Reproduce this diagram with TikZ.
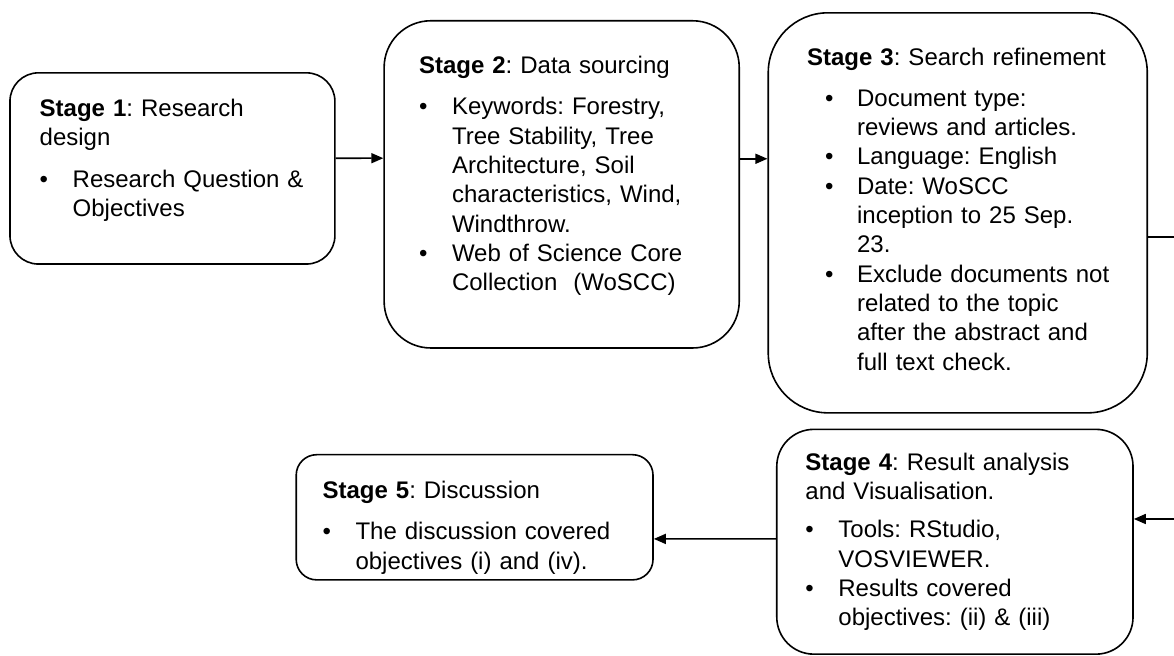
\documentclass[tikz,border=0pt]{standalone}
\usepackage{fontspec}
\setmainfont{Liberation Sans}
\usepackage{enumitem}
\usetikzlibrary{arrows.meta, positioning, calc}

\setlist[itemize]{nosep, topsep=6pt, labelindent=0pt, labelwidth=10pt, labelsep=6.5pt, leftmargin=16.5pt, align=left, label=\textbullet}

\begin{document}
\frenchspacing
\begin{tikzpicture}[
        stagebox/.style={rectangle, draw, line width=0.8pt},
        stagetext/.style={anchor=north west, inner sep=0pt, align=left, font=\fontsize{12}{14.65}\selectfont},
        arrow/.style={-{Triangle[length=6pt, width=5pt]}, line width=0.8pt}
    ]

    \useasboundingbox (0,0) rectangle (20.63,11.51);

    % Stage boxes
    \node[stagebox, minimum width=5.71cm, minimum height=3.36cm, rounded corners=0.5cm] (s1) at (3.03,8.55) {};
    \node[stagebox, minimum width=6.24cm, minimum height=5.75cm, rounded corners=0.82cm] (s2) at (9.87,8.27) {};
    \node[stagebox, minimum width=6.66cm, minimum height=7.03cm, rounded corners=1.05cm] (s3) at (16.83,7.77) {};
    \node[stagebox, minimum width=6.26cm, minimum height=3.95cm, rounded corners=0.65cm] (s4) at (16.78,1.99) {};
    \node[stagebox, minimum width=6.27cm, minimum height=2.20cm, rounded corners=0.36cm] (s5) at (8.34,2.42) {};

    % --- Box texts ---

    \node[stagetext, text width=5cm, below right=0.47cm and 0.53cm of s1.north west] (t1) {%
        \textbf{Stage 1}: Research\\ design
        \begin{itemize}
            \item Research Question \&\\ Objectives
        \end{itemize}};

    \node[stagetext, text width=5.5cm, below right=0.63cm and 0.62cm of s2.north west] (t2) {%
        \textbf{Stage 2}: Data sourcing
        \begin{itemize}
            \item Keywords: Forestry,\\ Tree Stability, Tree\\ Architecture, Soil\\ characteristics, Wind,\\ Windthrow.
            \item Web of Science Core\\ Collection\ \ (WoSCC)
        \end{itemize}};

    \node[stagetext, text width=6cm, below right=0.62cm and 0.69cm of s3.north west] (t3) {%
        \textbf{Stage 3}: Search refinement
        \begin{itemize}[labelindent=9pt, labelwidth=9.5pt, leftmargin=25pt]
            \item Document type:\\ reviews and articles.
            \item Language: English
            \item Date: WoSCC\\ inception to 25 Sep.\\ 23.
            \item Exclude documents not\\ related to the topic\\ after the abstract and\\ full text check.
        \end{itemize}};

    \node[stagetext, text width=5.6cm, below right=0.42cm and 0.51cm of s4.north west] (t4) {%
        \textbf{Stage 4}: Result analysis\\ and Visualisation.
        \begin{itemize}[topsep=4.5pt]
            \item Tools: RStudio,\\ VOSVIEWER.
            \item Results covered\\ objectives: (ii) \& (iii)
        \end{itemize}};

    \node[stagetext, text width=5.6cm, below right=0.47cm and 0.47cm of s5.north west] (t5) {%
        \textbf{Stage 5}: Discussion
        \begin{itemize}
            \item The discussion covered\\ objectives (i) and (iv).
        \end{itemize}};

    % --- Connectors ---

    \draw [arrow] ($(s1.east)+(0,0.18)$) -- ($(s2.west)+(0,0.46)$);
    \draw [arrow] ($(s2.east)+(0,0.45)$) -- ($(s3.west)+(0,0.95)$);

    % goes out past the right edge and comes back to stage 4
    \coordinate (turn) at (21.2,5);
    \draw [arrow] ($(s3.east)+(0,-0.42)$) -| (turn) |- ($(s4.east)+(0,0.40)$);

    \draw [arrow] ($(s4.west)+(0,0.05)$) -- ($(s5.east)+(0,-0.38)$);

\end{tikzpicture}
\end{document}
